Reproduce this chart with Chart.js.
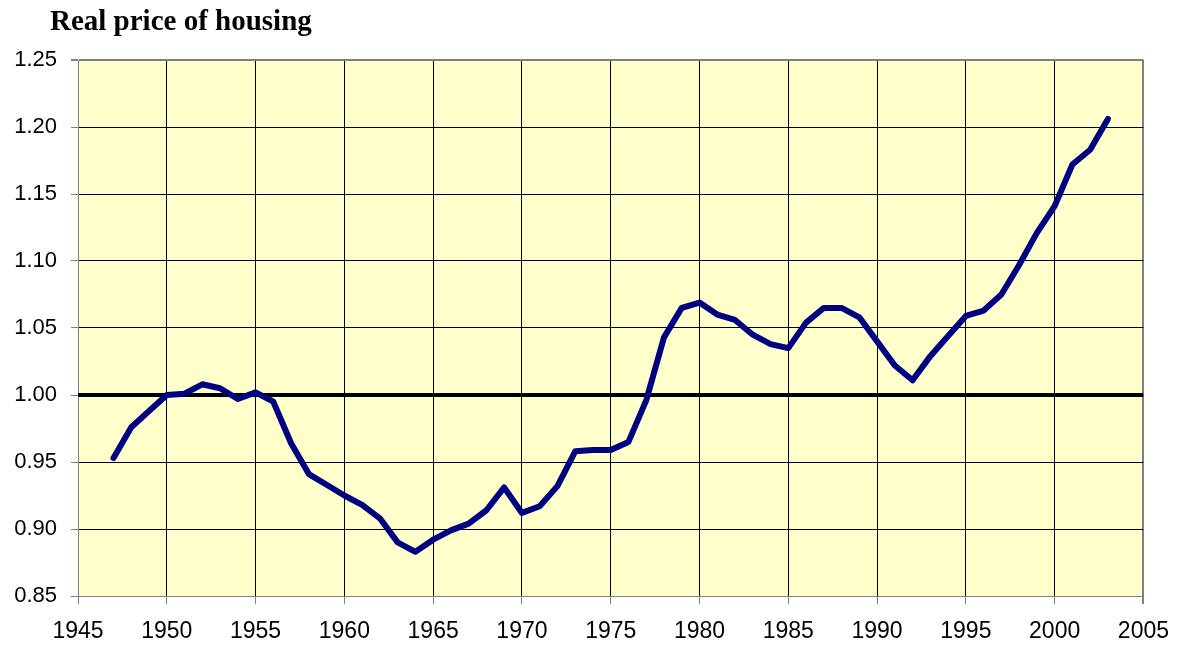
<!DOCTYPE html>
<html>
<head>
<meta charset="utf-8">
<script src="https://cdn.jsdelivr.net/npm/chart.js@4.4.1/dist/chart.umd.min.js"></script>
<style>
  body { margin: 0; background: #fff; }
  #wrap { width: 1183px; height: 647px; }
</style>
</head>
<body>
<div id="wrap"><canvas id="housingChart" width="1183" height="647"></canvas></div>
<script>
// years and real house price index
const years = [1947, 1948, 1949, 1950, 1951, 1952, 1953, 1954, 1955, 1956,
    1957, 1958, 1959, 1960, 1961, 1962, 1963, 1964, 1965, 1966,
    1967, 1968, 1969, 1970, 1971, 1972, 1973, 1974, 1975, 1976,
    1977, 1978, 1979, 1980, 1981, 1982, 1983, 1984, 1985, 1986,
    1987, 1988, 1989, 1990, 1991, 1992, 1993, 1994, 1995, 1996,
    1997, 1998, 1999, 2000, 2001, 2002, 2003];
const realPrice = [0.953, 0.976, 0.988, 1.000, 1.001, 1.008, 1.005, 0.997, 1.002, 0.995,
    0.964, 0.941, 0.933, 0.925, 0.918, 0.908, 0.890, 0.883, 0.892, 0.899,
    0.904, 0.914, 0.931, 0.912, 0.917, 0.932, 0.958, 0.959, 0.959, 0.965,
    0.996, 1.043, 1.065, 1.069, 1.060, 1.056, 1.045, 1.038, 1.035, 1.054,
    1.065, 1.065, 1.058, 1.040, 1.022, 1.011, 1.029, 1.044, 1.059, 1.063,
    1.075, 1.097, 1.121, 1.141, 1.172, 1.183, 1.206];

// reference line at 1.00
const baseYears = [1945, 2005];
const baseValues = [1.00, 1.00];

const titleText = 'Real price of housing';

//fill the plot area pale yellow and write the title in the corner
const plotDecor = {
    id: 'plotDecor',
    beforeDraw(chart) {
        const { ctx, chartArea } = chart;
        ctx.save();
        ctx.fillStyle = '#FFFFCC';
        ctx.fillRect(chartArea.left, chartArea.top, chartArea.right - chartArea.left, chartArea.bottom - chartArea.top);
        ctx.restore();
    },
    afterDraw(chart) {
        const ctx = chart.ctx;
        ctx.save();
        ctx.font = 'bold 29px "Liberation Serif", "Times New Roman", serif';
        ctx.fillStyle = '#000';
        ctx.textBaseline = 'alphabetic';
        ctx.fillText(titleText, 50, 30);
        ctx.restore();
    }
};

const yFont = { family: '"Liberation Sans", Arial, sans-serif', size: 22 };
const xFont = { family: '"Liberation Sans", Arial, sans-serif', size: 23 };

const ctx = document.getElementById('housingChart').getContext('2d');
new Chart(ctx, {
    type: 'line',
    data: {
        datasets: [
            {
                label: 'Real price of housing',
                data: years.map((y, i) => ({ x: y, y: realPrice[i] })),
                borderColor: '#000080',
                borderWidth: 6,
                borderCapStyle: 'round',
                borderJoinStyle: 'round',
                pointRadius: 0,
                tension: 0,
                order: 0
            },
            {
                label: 'base',
                data: baseYears.map((y, i) => ({ x: y, y: baseValues[i] })),
                borderColor: '#000000',
                borderWidth: 4,
                pointRadius: 0,
                order: 1
            }
        ]
    },
    options: {
        responsive: false,
        animation: false,
        layout: { padding: { top: 60, right: 39, left: 0, bottom: 0 } },
        plugins: {
            legend: { display: false },
            tooltip: { enabled: false }
        },
        scales: {
            x: {
                type: 'linear',
                min: 1945,
                max: 2005,
                afterFit(scale) { scale.height = 51; },
                ticks: {
                    stepSize: 5,
                    color: '#000',
                    font: xFont,
                    padding: 14,
                    maxRotation: 0,
                    callback: v => String(v)
                },
                grid: {
                    color: c => (c.tick && c.tick.value === 2005) ? '#808080' : '#000',
                    lineWidth: c => (c.tick && c.tick.value === 2005) ? 2 : 1,
                    tickLength: 8,
                    tickColor: '#808080'
                },
                border: { color: '#808080', width: 1 }
            },
            y: {
                min: 0.85,
                max: 1.25,
                afterFit(scale) { scale.width = 78; },
                ticks: {
                    stepSize: 0.05,
                    color: '#000',
                    font: yFont,
                    padding: 14,
                    callback: v => Number(v).toFixed(2)
                },
                grid: {
                    color: c => (c.tick && Math.abs(c.tick.value - 1.25) < 1e-6) ? '#808080' : '#000',
                    lineWidth: c => (c.tick && Math.abs(c.tick.value - 1.25) < 1e-6) ? 2 : 1,
                    tickLength: 7,
                    tickColor: '#808080'
                },
                border: { color: '#808080', width: 1 }
            }
        }
    },
    plugins: [plotDecor]
});
</script>
</body>
</html>
